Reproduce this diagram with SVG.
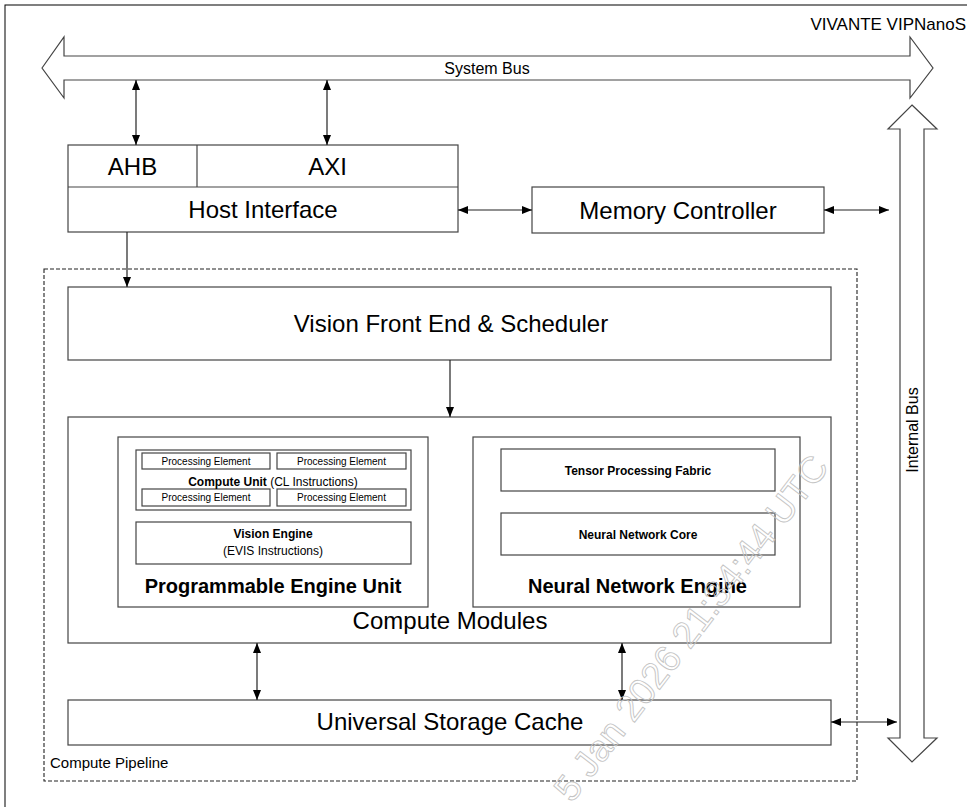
<svg xmlns="http://www.w3.org/2000/svg" width="967" height="807" viewBox="0 0 967 807">
<style>
text{font-family:"Liberation Sans",Arial,sans-serif;fill:#000}
.box{fill:#fff;stroke:#444;stroke-width:1.2}
.bus{fill:#fff;stroke:#444;stroke-width:1.2}
.c{text-anchor:middle}
.big{font-size:24px}
.b{font-weight:bold}
.con{stroke:#222;stroke-width:1.2;fill:none;marker-start:url(#ah);marker-end:url(#ah)}
.one{stroke:#222;stroke-width:1.2;fill:none;marker-end:url(#ah)}
</style>
<defs>
<marker id="ah" viewBox="0 0 10 8" refX="10" refY="4" markerWidth="10" markerHeight="8" markerUnits="userSpaceOnUse" orient="auto-start-reverse">
<path d="M0,0 L10,4 L0,8 Z" fill="#000"/>
</marker>
</defs>
<rect width="967" height="807" fill="#fff"/>
<rect x="5" y="5" width="1000" height="900" fill="none" stroke="#000" stroke-width="1"/>
<text x="966" y="30" style="font-size:17px;text-anchor:end">VIVANTE VIPNanoS</text>

<g id="system-bus">
<polygon class="bus" points="42,68 64,37 64,56 910,56 910,37 933,68 910,98 910,80 64,80 64,98"/>
<text x="487" y="74" class="c" style="font-size:16px">System Bus</text>
</g>
<g id="internal-bus">
<polygon class="bus" points="912,105 937,129 924,129 924,738 937,738 912,762 888,738 900,738 900,129 888,129"/>
<text transform="translate(918,430) rotate(-90)" class="c" style="font-size:16px">Internal Bus</text>
</g>

<g id="host-interface">
<rect class="box" x="68" y="145" width="390" height="87"/>
<line x1="68" y1="187" x2="458" y2="187" stroke="#444" stroke-width="1.2"/>
<line x1="197" y1="145" x2="197" y2="187" stroke="#444" stroke-width="1.2"/>
<text x="132.5" y="175" class="c big">AHB</text>
<text x="327.5" y="175" class="c big">AXI</text>
<text x="263" y="218" class="c big">Host Interface</text>
</g>

<g id="memory-controller">
<rect class="box" x="532" y="187" width="292" height="46"/>
<text x="678" y="218.5" class="c big">Memory Controller</text>
</g>

<g id="compute-pipeline">
<rect x="44" y="269" width="813" height="512" fill="none" stroke="#222" stroke-width="1.1" stroke-dasharray="4 2"/>
<text x="50" y="768" style="font-size:15px">Compute Pipeline</text>
</g>

<g id="vision-front-end">
<rect class="box" x="68" y="287" width="763" height="73"/>
<text x="451" y="332" class="c big">Vision Front End &amp; Scheduler</text>
</g>

<g id="compute-modules">
<rect class="box" x="68" y="417" width="763" height="226"/>
<text x="450" y="629" class="c big">Compute Modules</text>
</g>

<g id="programmable-engine-unit">
<rect class="box" x="118" y="437" width="310" height="170"/>
<text x="273" y="593" class="c b" style="font-size:20px">Programmable Engine Unit</text>
</g>

<g id="compute-unit">
<rect class="box" x="136" y="450" width="275" height="60"/>
<rect class="box" x="142" y="453" width="128" height="16"/>
<rect class="box" x="277" y="453" width="129" height="16"/>
<rect class="box" x="142" y="489" width="128" height="17"/>
<rect class="box" x="277" y="489" width="129" height="17"/>
<text x="206" y="465" class="c" style="font-size:10px">Processing Element</text>
<text x="341.5" y="465" class="c" style="font-size:10px">Processing Element</text>
<text x="206" y="501" class="c" style="font-size:10px">Processing Element</text>
<text x="341.5" y="501" class="c" style="font-size:10px">Processing Element</text>
<text x="273" y="486" class="c" style="font-size:12px"><tspan class="b">Compute Unit</tspan> (CL Instructions)</text>
</g>

<g id="vision-engine">
<rect class="box" x="136" y="522" width="275" height="42"/>
<text x="273" y="538" class="c b" style="font-size:12px">Vision Engine</text>
<text x="273" y="555" class="c" style="font-size:12px">(EVIS Instructions)</text>
</g>

<g id="neural-network-engine">
<rect class="box" x="473" y="437" width="327" height="170"/>
<text x="637.5" y="593" class="c b" style="font-size:20px">Neural Network Engine</text>
</g>

<g id="tensor-processing-fabric">
<rect class="box" x="501" y="449" width="274" height="42"/>
<text x="638" y="475" class="c b" style="font-size:12px">Tensor Processing Fabric</text>
</g>

<g id="neural-network-core">
<rect class="box" x="501" y="513" width="274" height="42"/>
<text x="638" y="539" class="c b" style="font-size:12px">Neural Network Core</text>
</g>

<g id="universal-storage-cache">
<rect class="box" x="68" y="700" width="763" height="45"/>
<text x="450" y="730" class="c big">Universal Storage Cache</text>
</g>

<g id="connectors">
<line class="con" x1="136" y1="80" x2="136" y2="145"/>
<line class="con" x1="327" y1="80" x2="327" y2="145"/>
<line class="one" x1="127" y1="232" x2="127" y2="287"/>
<line class="con" x1="458" y1="210" x2="532" y2="210"/>
<line class="con" x1="824" y1="210" x2="889" y2="210"/>
<line class="one" x1="450" y1="360" x2="450" y2="417"/>
<line class="con" x1="257" y1="643" x2="257" y2="700"/>
<line class="con" x1="622" y1="643" x2="622" y2="700"/>
<line class="con" x1="831" y1="722" x2="897" y2="722"/>
</g>

<text transform="translate(830,467.5) rotate(-52.5)" style="font-size:37px;text-anchor:end;fill:none;stroke:#c4c4c4;stroke-width:0.9">5 Jan 2026 21:34:44 UTC</text>
</svg>
